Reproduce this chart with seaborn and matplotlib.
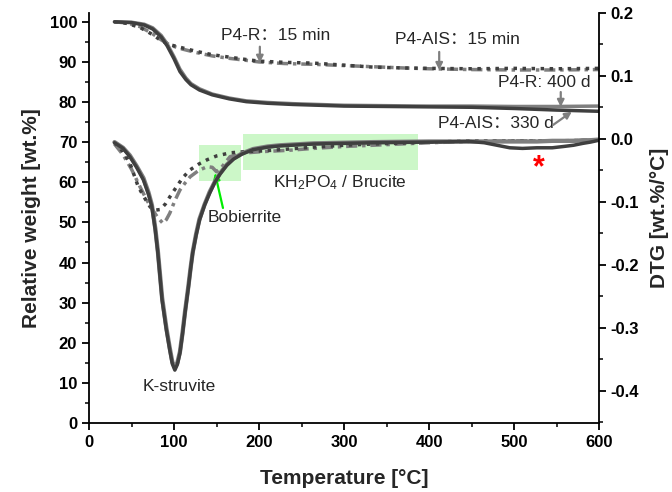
import matplotlib
matplotlib.use("Agg")
import matplotlib.pyplot as plt
import seaborn as sns
import numpy as np
from matplotlib.patches import Rectangle
from matplotlib.ticker import MultipleLocator

# ---------------- data ----------------
# TG curves (left axis, wt.%)
tg_15_temp = [30, 45, 60, 75, 85, 95, 110, 125, 145, 165, 185, 200, 230, 265, 300, 335, 370, 400, 450, 500, 550, 600]
tg_r15 = [100, 99.6, 98.6, 96.8, 95.3, 94.3, 93.5, 92.7, 91.8, 91.2, 90.6, 90.2, 89.9, 89.7, 89.2, 88.7, 88.5, 88.4, 88.3, 88.4, 88.3, 88.4]
tg_ais15 = [100, 99.7, 98.8, 97.0, 95.5, 94.2, 93.2, 92.4, 91.5, 90.9, 90.4, 90.0, 89.6, 89.4, 89.1, 88.8, 88.5, 88.3, 88.1, 88.0, 88.0, 88.1]

tg_long_temp = [30, 50, 65, 75, 85, 92, 100, 107, 114, 120, 130, 145, 165, 185, 210, 240, 270, 300, 350, 400, 450, 500, 550, 600]
tg_ais330 = [100, 99.8, 99.2, 98.2, 96.2, 94.0, 90.8, 87.6, 85.6, 84.3, 83.0, 81.8, 80.8, 80.1, 79.7, 79.4, 79.2, 79.0, 78.9, 78.8, 78.7, 78.4, 78.0, 77.7]
tg_r400 = [100, 99.9, 99.4, 98.5, 96.6, 94.5, 91.3, 88.2, 86.0, 84.6, 83.3, 82.0, 81.0, 80.3, 79.9, 79.6, 79.4, 79.2, 79.1, 79.0, 79.0, 78.9, 78.9, 79.0]

# DTG curves (right axis, wt.%/°C)
dtg_long_temp = [30, 40, 48, 56, 64, 70, 74, 78, 81, 86, 91, 95, 98, 101, 104, 107, 110, 113, 117, 119.5, 122, 126,
                 130, 136, 142, 148, 154, 162, 170, 180, 193, 210, 225, 264, 334, 400, 448, 465, 480, 495, 510, 527,
                 545, 558, 570, 581, 590, 600]
dtg_ais330 = [-0.006, -0.015, -0.028, -0.045, -0.065, -0.088, -0.108, -0.145, -0.181, -0.256, -0.303, -0.335, -0.357,
              -0.367, -0.358, -0.340, -0.310, -0.276, -0.235, -0.207, -0.181, -0.153, -0.129, -0.105, -0.086, -0.069,
              -0.056, -0.042, -0.032, -0.024, -0.017, -0.013, -0.011, -0.008, -0.006, -0.005, -0.004, -0.006, -0.010,
              -0.014, -0.015, -0.014, -0.014, -0.012, -0.010, -0.007, -0.005, -0.002]
dtg_r400 = [-0.005, -0.014, -0.026, -0.043, -0.062, -0.085, -0.105, -0.142, -0.178, -0.252, -0.300, -0.332, -0.354,
            -0.363, -0.355, -0.338, -0.308, -0.274, -0.233, -0.205, -0.180, -0.151, -0.127, -0.104, -0.084, -0.068,
            -0.055, -0.041, -0.031, -0.023, -0.016, -0.012, -0.010, -0.007, -0.005, -0.004, -0.004, -0.004, -0.004,
            -0.004, -0.004, -0.004, -0.003, -0.003, -0.003, -0.002, -0.002, -0.001]

dtg_r15_temp = [30, 40, 48, 58, 66, 72, 78, 84, 90, 96, 103, 110, 119, 129, 139, 150, 166, 185, 205, 235, 264, 300,
                334, 400, 450, 500, 550, 600]
dtg_r15 = [-0.006, -0.020, -0.038, -0.076, -0.095, -0.108, -0.113, -0.112, -0.103, -0.090, -0.076, -0.062, -0.049,
           -0.040, -0.033, -0.027, -0.022, -0.020, -0.019, -0.016, -0.013, -0.010, -0.008, -0.005, -0.003, -0.003,
           -0.003, -0.002]

dtg_ais15_temp = [30, 40, 50, 60, 68, 75, 81, 87, 91, 95, 101, 107, 113, 119, 129, 139, 145, 150, 156, 166, 185, 205,
                  235, 264, 300, 334, 400, 450, 500, 550, 600]
dtg_ais15 = [-0.008, -0.025, -0.048, -0.076, -0.097, -0.113, -0.125, -0.134, -0.128, -0.118, -0.098, -0.081, -0.070,
             -0.060, -0.050, -0.044, -0.045, -0.052, -0.045, -0.028, -0.022, -0.020, -0.018, -0.015, -0.012, -0.010,
             -0.006, -0.004, -0.003, -0.003, -0.002]

x_ticks = [0, 100, 200, 300, 400, 500, 600]
left_ticks = [0, 10, 20, 30, 40, 50, 60, 70, 80, 90, 100]
right_ticks = [-0.4, -0.3, -0.2, -0.1, 0.0, 0.1, 0.2]

# ---------------- style ----------------
sns.set_style("ticks")
plt.rcParams['font.family'] = ['Liberation Sans', 'Noto Sans CJK SC', 'DejaVu Sans']
plt.rcParams['mathtext.fontset'] = 'custom'
plt.rcParams['mathtext.rm'] = 'Liberation Sans'
plt.rcParams['mathtext.it'] = 'Liberation Sans:italic'

DARK = "#3f3f3f"
GRAY = "#7f7f7f"
LW = 2.5
DOT = (0, (1.0, 1.6))
DASHDOT = (0, (3.2, 1.4, 1.0, 1.4))

fig = plt.figure(figsize=(6.72, 4.92), dpi=100)
ax = fig.add_axes([89 / 672, 1 - 423 / 492, 510 / 672, 410 / 492])
ax2 = ax.twinx()

# ---- green highlight boxes (left-axis data coords) ----
ax.add_patch(Rectangle((129, 60.3), 50, 9.0, facecolor="#ccf7c8", edgecolor="none", zorder=0))
ax.add_patch(Rectangle((181, 63.1), 206, 9.0, facecolor="#ccf7c8", edgecolor="none", zorder=0))

# ---- TG curves ----
sns.lineplot(x=tg_15_temp, y=tg_ais15, ax=ax, color=GRAY, linewidth=LW, linestyle=DASHDOT)
sns.lineplot(x=tg_15_temp, y=tg_r15, ax=ax, color=DARK, linewidth=LW, linestyle=DOT)
sns.lineplot(x=tg_long_temp, y=tg_r400, ax=ax, color=GRAY, linewidth=LW)
sns.lineplot(x=tg_long_temp, y=tg_ais330, ax=ax, color=DARK, linewidth=LW)

# ---- DTG curves ----
sns.lineplot(x=dtg_ais15_temp, y=dtg_ais15, ax=ax2, color=GRAY, linewidth=LW, linestyle=DASHDOT)
sns.lineplot(x=dtg_r15_temp, y=dtg_r15, ax=ax2, color=DARK, linewidth=LW, linestyle=DOT)
sns.lineplot(x=dtg_long_temp, y=dtg_r400, ax=ax2, color=GRAY, linewidth=LW + 0.6)
sns.lineplot(x=dtg_long_temp, y=dtg_ais330, ax=ax2, color=DARK, linewidth=LW)

# ---- axes ----
ax.set_xlim(0, 600)
ax.set_ylim(0, 102.2)
ax2.set_ylim(-0.451, 0.2)
ax.set_xticks(x_ticks)
ax.set_yticks(left_ticks)
ax2.set_yticks(right_ticks)
ax.set_yticklabels([str(t) for t in left_ticks])
ax2.set_yticklabels(["%.1f" % t for t in right_ticks])
ax.xaxis.set_minor_locator(MultipleLocator(50))
ax.yaxis.set_minor_locator(MultipleLocator(5))
ax2.yaxis.set_minor_locator(MultipleLocator(0.05))

for a in (ax, ax2):
    a.spines['top'].set_visible(False)
    for s in a.spines.values():
        s.set_linewidth(1.3)
        s.set_color("black")
    a.tick_params(which='major', direction='out', length=5, width=1.3, labelsize=12, colors='black')
    a.tick_params(which='minor', direction='out', length=3, width=1.3)
    for lab in a.get_xticklabels() + a.get_yticklabels():
        lab.set_fontweight('bold')
ax.spines['right'].set_visible(False)
ax2.spines['left'].set_visible(False)
ax2.spines['bottom'].set_visible(False)

ax.set_xlabel("Temperature [°C]", fontsize=15, fontweight='bold', labelpad=14)
ax.set_ylabel("Relative weight [wt.%]", fontsize=15, fontweight='bold', labelpad=6)
ax2.set_ylabel("DTG [wt.%/°C]", fontsize=15, fontweight='bold', labelpad=8)

# ---- annotations ----
fs = 12.5
arrow_gray = dict(arrowstyle='-|>', color=GRAY, lw=1.6, mutation_scale=10, shrinkA=0, shrinkB=0)
ax.text(219, 96.5, "P4-R：15 min", fontsize=fs, ha='center', va='center')
ax.annotate("", xy=(201, 89.8), xytext=(201, 93.8), arrowprops=arrow_gray)
ax.text(433, 95.5, "P4-AIS：15 min", fontsize=fs, ha='center', va='center')
ax.annotate("", xy=(412, 88.0), xytext=(412, 92.5), arrowprops=arrow_gray)
ax.text(535, 84.8, "P4-R: 400 d", fontsize=fs, ha='center', va='center')
ax.annotate("", xy=(555, 78.8), xytext=(555, 82.5), arrowprops=arrow_gray)
ax.text(479, 74.6, "P4-AIS：330 d", fontsize=fs, ha='center', va='center')
ax.annotate("", xy=(568, 77.6), xytext=(546, 74.3), arrowprops=arrow_gray)
ax.text(295, 59.8, "KH$_2$PO$_4$ / Brucite", fontsize=fs, ha='center', va='center')
ax.text(183.5, 51.1, "Bobierrite", fontsize=fs, ha='center', va='center')
ax.annotate("", xy=(148.2, 62.3), xytext=(157.6, 53.6),
            arrowprops=dict(arrowstyle='-|>', color="#00ee00", lw=1.6, mutation_scale=10, shrinkA=0, shrinkB=0))
ax.text(106, 9.0, "K-struvite", fontsize=fs, ha='center', va='center')
ax.text(529, 63.5, "*", fontsize=22, fontweight='bold', color='red', ha='center', va='center')

fig.savefig("out.png", dpi=100)
